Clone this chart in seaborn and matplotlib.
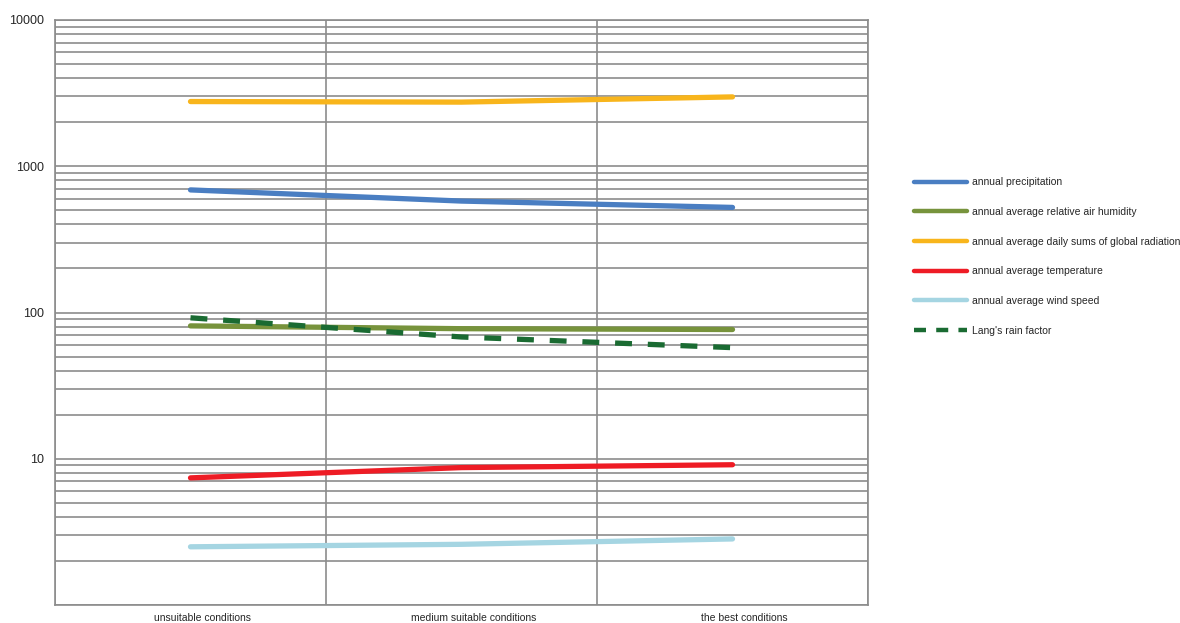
import matplotlib
matplotlib.use('Agg')
import matplotlib.pyplot as plt
import matplotlib.transforms as mtransforms
import seaborn as sns
import pandas as pd
import numpy as np
from matplotlib.ticker import LogLocator, NullFormatter

categories = ["unsuitable conditions", "medium suitable conditions", "the best conditions"]
series_names = ["annual precipitation",
                "annual average relative air humidity",
                "annual average daily sums of global radiation",
                "annual average temperature",
                "annual average wind speed",
                "Lang's rain factor"]
precipitation = [689, 578, 523]
humidity = [81, 77.5, 76.5]
radiation = [2770, 2745, 2980]
temperature = [7.4, 8.7, 9.1]
wind_speed = [2.5, 2.6, 2.83]
lang_factor = [92, 68, 57.5]

colors = ["#4A7EC2", "#77933C", "#F8B51C", "#EE1C25", "#A5D5E2", "#1A6B32"]

values = [precipitation, humidity, radiation, temperature, wind_speed, lang_factor]
rows = []
for name, vals in zip(series_names, values):
    for i, v in enumerate(vals):
        rows.append({"pos": i, "series": name, "value": v})
df = pd.DataFrame(rows)

sns.set_style("white")
plt.rcParams['font.family'] = ['Liberation Sans', 'DejaVu Sans']

fig = plt.figure(figsize=(11.8, 6.23), dpi=100)
ax = fig.add_axes([55 / 1180, 1 - 605 / 623, (868 - 55) / 1180, (605 - 20) / 623])

dashes = {n: "" for n in series_names}
dashes["Lang's rain factor"] = (3.2, 3.0)
sns.lineplot(data=df, x="pos", y="value", hue="series", style="series",
             hue_order=series_names, style_order=series_names,
             palette=dict(zip(series_names, colors)), dashes=dashes,
             linewidth=3.8, ax=ax, legend=True)
for ln in ax.get_lines():
    ln.set_solid_capstyle('round')

ax.set_yscale('log')
ax.set_ylim(1, 10000)
ax.set_xlim(-0.5, 2.5)
grid_c = "#8C8C8C"
ax.set_yticks([1, 10, 100, 1000, 10000], labels=["", "10", "100", "1000", "10000"])
ax.yaxis.set_minor_locator(LogLocator(base=10, subs=np.arange(2, 10)))
ax.yaxis.set_minor_formatter(NullFormatter())
ax.set_xticks([0, 1, 2], labels=categories)
ax.set_xticks([-0.5, 0.5, 1.5, 2.5], minor=True)
ax.grid(True, which='both', axis='y', color=grid_c, linewidth=1.2)
ax.grid(True, which='minor', axis='x', color=grid_c, linewidth=1.2)
ax.tick_params(axis='y', which='major', length=5, color=grid_c, labelsize=9, pad=3)
ax.tick_params(axis='y', which='minor', length=0)
ax.tick_params(axis='x', which='major', length=0, labelsize=7.5, pad=6)
ax.tick_params(axis='x', which='minor', length=5, color=grid_c)
shift = mtransforms.ScaledTranslation(0.12, 0, fig.dpi_scale_trans)
for lbl in ax.get_xticklabels():
    lbl.set_transform(lbl.get_transform() + shift)
for s in ax.spines.values():
    s.set_color(grid_c)
    s.set_linewidth(1.2)
ax.set_xlabel("")
ax.set_ylabel("")
ax.set_axisbelow(True)

handles, labels = ax.get_legend_handles_labels()
ax.get_legend().remove()
leg = fig.legend(handles, labels, loc='upper left', bbox_to_anchor=(905 / 1180, 1 - 168 / 623),
                 frameon=False, fontsize=7.45, handlelength=5.1, handletextpad=0.45,
                 labelspacing=1.9)
for h in leg.get_lines():
    h.set_linewidth(3.2)
leg.get_lines()[-1].set_dashes((2.7, 2.3))

fig.savefig("out.png", dpi=100)
